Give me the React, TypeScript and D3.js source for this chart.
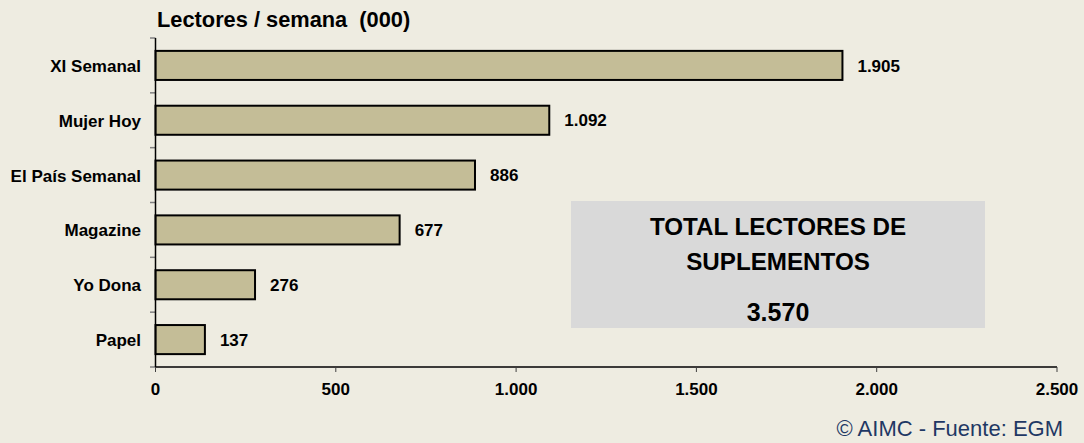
import React from "react";
import * as d3 from "d3";

const categories = ["XI Semanal", "Mujer Hoy", "El País Semanal", "Magazine", "Yo Dona", "Papel"];
const readers = [1905, 1092, 886, 677, 276, 137];
const xTicks = [0, 500, 1000, 1500, 2000, 2500];
const title = "Lectores / semana  (000)";
const boxLines = ["TOTAL LECTORES DE", "SUPLEMENTOS"];
const totalReaders = 3570;
const source = "© AIMC - Fuente: EGM";

const W = 1084;
const H = 443;
const FONT = "Arial, 'Liberation Sans', Helvetica, sans-serif";

const esLocale = d3.formatLocale({
  decimal: ",",
  thousands: ".",
  grouping: [3],
  currency: ["", " €"],
});
const fmt = (v: number) => (v >= 1000 ? esLocale.format(",d")(v) : String(v));

export default function App() {
  const x = d3.scaleLinear().domain([0, 2500]).range([155.5, 1057]);
  const y = d3.scaleBand<string>().domain(categories).range([38, 367]).padding(0);
  const bw = y.bandwidth();
  const barH = bw * 0.53;
  const x0 = x(0);
  const axisY = 367;
  const boundaries = d3.range(categories.length + 1).map((i) => 38 + i * bw);
  const fs = 17;

  return (
    <>
      <style>{`html,body{margin:0;padding:0;background:#eeece1;}`}</style>
      <svg width={W} height={H} style={{ display: "block" }} fontFamily={FONT}>
        <rect x={0} y={0} width={W} height={H} fill="#eeece1" />
        <text x={157} y={26.5} fontSize={21.8} fontWeight="bold" fill="#000" style={{ whiteSpace: "pre" }}>
          {title}
        </text>

        {/* total box */}
        <rect x={571} y={201} width={414} height={127} fill="#d9d9d9" />
        {boxLines.map((t, i) => (
          <text key={t} x={778} y={234.5 + i * 35.5} fontSize={24.2} fontWeight="bold" textAnchor="middle" fill="#000">
            {t}
          </text>
        ))}
        <text x={778} y={320.5} fontSize={25} fontWeight="bold" textAnchor="middle" fill="#000">
          {fmt(totalReaders)}
        </text>

        {/* y ticks */}
        {boundaries.map((b, i) => (
          <line key={"yt" + i} x1={150} x2={x0} y1={b} y2={b} stroke="#808080" strokeWidth={1.5} />
        ))}

        {/* bars */}
        {categories.map((c, i) => {
          const by = (y(c) as number) + (bw - barH) / 2;
          return (
            <g key={c}>
              <rect
                x={x0}
                y={by}
                width={x(readers[i]) - x0}
                height={barH}
                fill="#c4bd97"
                stroke="#000"
                strokeWidth={2}
              />
              <text
                x={x(readers[i]) + 15}
                y={by + barH / 2}
                dy="0.36em"
                fontSize={fs}
                fontWeight="bold"
                fill="#000"
              >
                {fmt(readers[i])}
              </text>
              <text
                x={141}
                y={by + barH / 2}
                dy="0.38em"
                fontSize={fs}
                fontWeight="bold"
                textAnchor="end"
                fill="#000"
              >
                {c}
              </text>
            </g>
          );
        })}

        {/* axes */}
        <line x1={x0} x2={x0} y1={38} y2={axisY} stroke="#000" strokeWidth={1.5} />
        <line x1={x0} x2={x(2500)} y1={axisY} y2={axisY} stroke="#000" strokeWidth={1.5} />
        {xTicks.map((t) => (
          <g key={"xt" + t}>
            <line x1={x(t)} x2={x(t)} y1={axisY} y2={axisY + 5} stroke="#404040" strokeWidth={1} />
            <text x={x(t)} y={395} fontSize={fs} fontWeight="bold" textAnchor="middle" fill="#000">
              {fmt(t)}
            </text>
          </g>
        ))}

        <text x={1063} y={436} fontSize={22} textAnchor="end" fill="#1f3864">
          {source}
        </text>
      </svg>
    </>
  );
}
